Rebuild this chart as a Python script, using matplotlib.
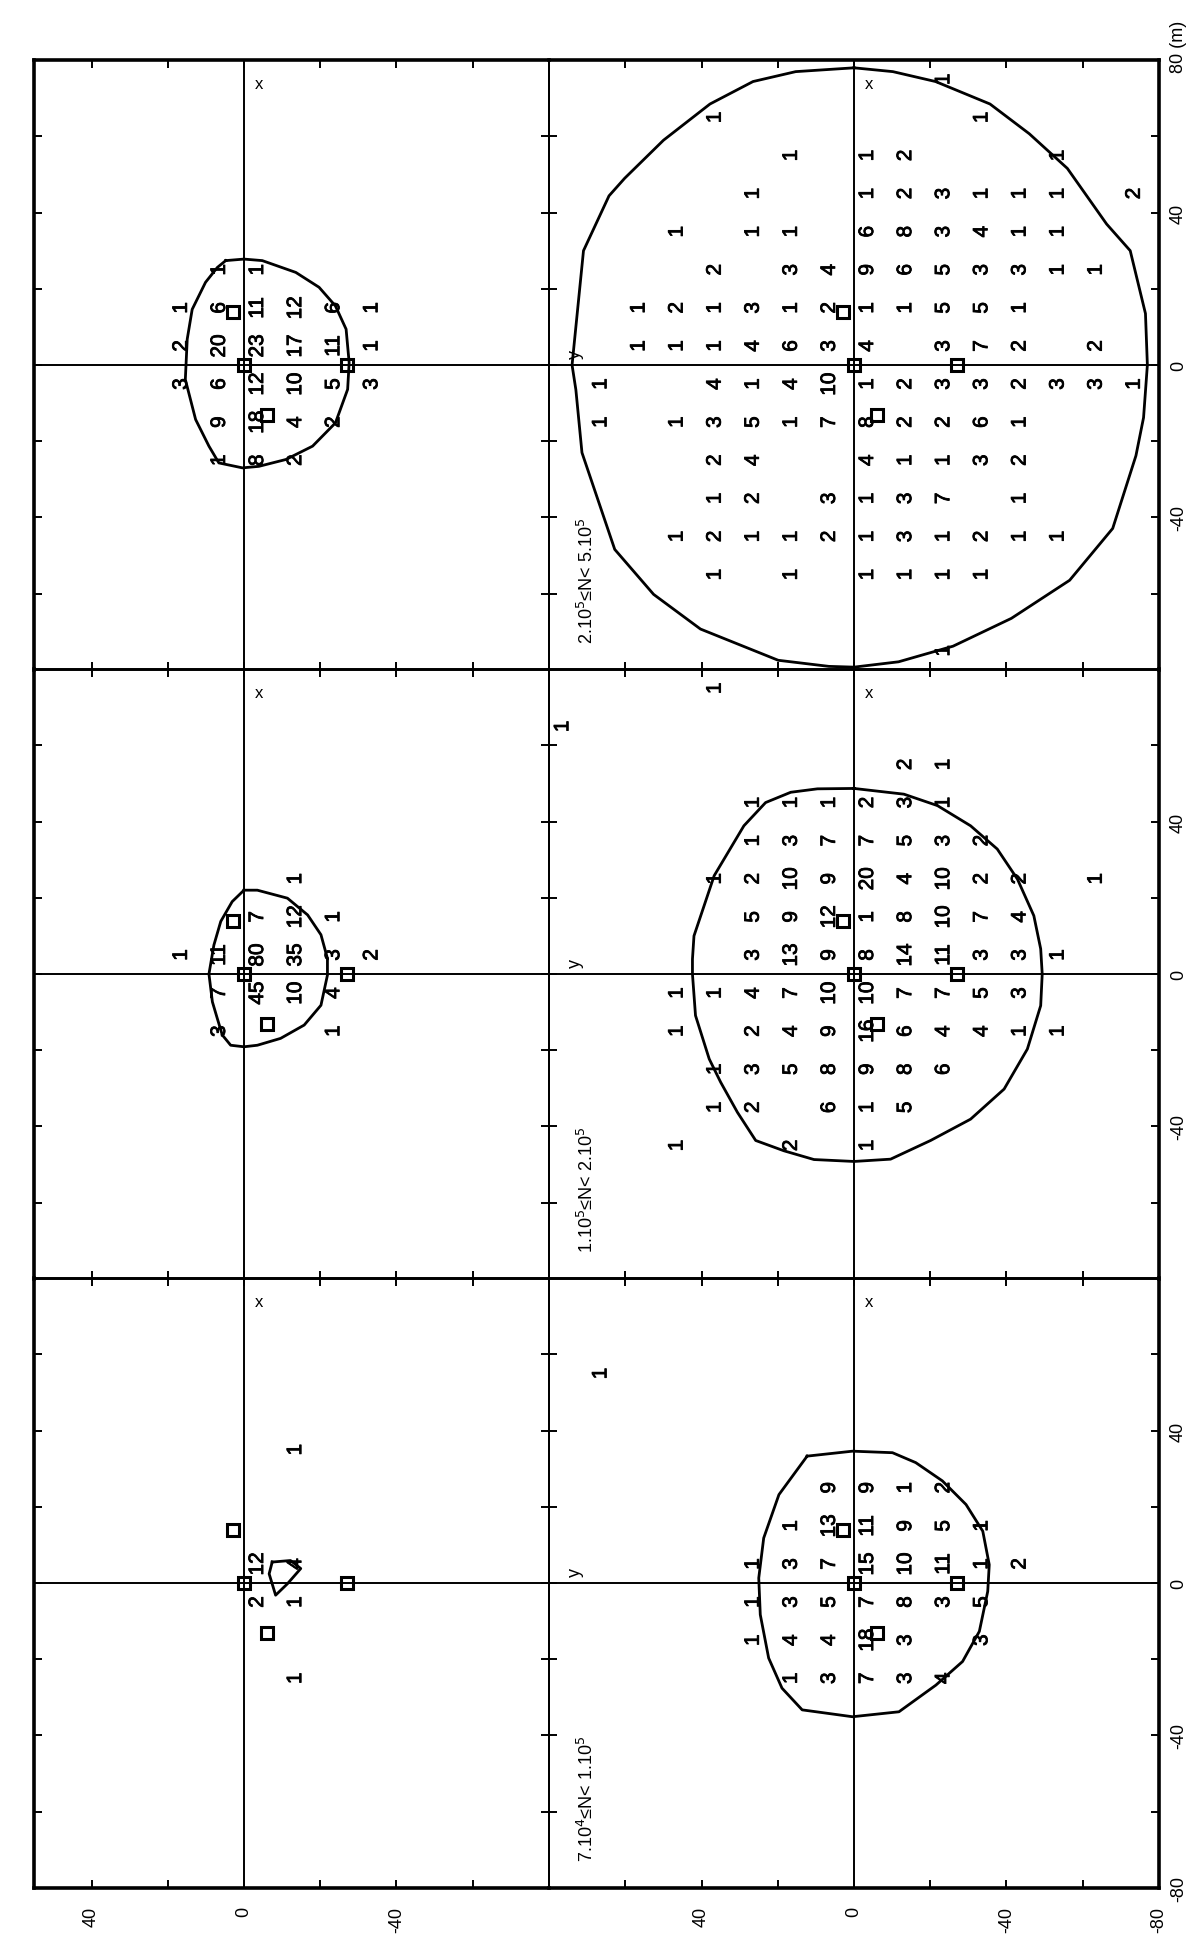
import matplotlib
matplotlib.use("Agg")
import matplotlib.pyplot as plt
import matplotlib.patheffects as pe

plt.rcParams["font.family"] = ["Liberation Sans", "DejaVu Sans"]

# ==========================================
# DATA  (Y, X in metres, count)
# ==========================================

# top-left panel
counts_a1 = [
    (25, [(5, 1), (-5, 1)]),
    (15, [(15, 1), (5, 6), (-5, 11), (-15, 12), (-25, 6), (-35, 1)]),
    (5, [(15, 2), (5, 20), (-5, 23), (-15, 17), (-25, 11), (-35, 1)]),
    (-5, [(15, 3), (5, 6), (-5, 12), (-15, 10), (-25, 5), (-35, 3)]),
    (-15, [(5, 9), (-5, 18), (-15, 4), (-25, 2)]),
    (-25, [(5, 1), (-5, 8), (-15, 2)]),
]

# middle-left panel
counts_a2 = [
    (25, [(-15, 1)]),
    (15, [(-5, 7), (-15, 12), (-25, 1)]),
    (5, [(15, 1), (5, 11), (-5, 80), (-15, 35), (-25, 3), (-35, 2)]),
    (-5, [(5, 7), (-5, 45), (-15, 10), (-25, 4)]),
    (-15, [(5, 3), (-25, 1)]),
]

# bottom-left panel
counts_a3 = [
    (35, [(-15, 1)]),
    (5, [(-5, 12), (-15, 4)]),
    (-5, [(-5, 2), (-15, 1)]),
    (-25, [(-15, 1)]),
]

# top-right panel
counts_b1 = [
    (75, [(-25, 1)]),
    (65, [(35, 1), (-35, 1)]),
    (55, [(15, 1), (-5, 1), (-15, 2), (-55, 1)]),
    (45, [(25, 1), (-5, 1), (-15, 2), (-25, 3), (-35, 1), (-45, 1), (-55, 1), (-75, 2)]),
    (35, [(45, 1), (25, 1), (15, 1), (-5, 6), (-15, 8), (-25, 3), (-35, 4), (-45, 1), (-55, 1)]),
    (25, [(35, 2), (15, 3), (5, 4), (-5, 9), (-15, 6), (-25, 5), (-35, 3), (-45, 3), (-55, 1), (-65, 1)]),
    (15, [(55, 1), (45, 2), (35, 1), (25, 3), (15, 1), (5, 2), (-5, 1), (-15, 1), (-25, 5), (-35, 5), (-45, 1)]),
    (5, [(55, 1), (45, 1), (35, 1), (25, 4), (15, 6), (5, 3), (-5, 4), (-25, 3), (-35, 7), (-45, 2), (-65, 2)]),
    (-5, [(65, 1), (35, 4), (25, 1), (15, 4), (5, 10), (-5, 1), (-15, 2), (-25, 3), (-35, 3), (-45, 2), (-55, 3), (-65, 3), (-75, 1)]),
    (-15, [(65, 1), (45, 1), (35, 3), (25, 5), (15, 1), (5, 7), (-5, 8), (-15, 2), (-25, 2), (-35, 6), (-45, 1)]),
    (-25, [(35, 2), (25, 4), (-5, 4), (-15, 1), (-25, 1), (-35, 3), (-45, 2)]),
    (-35, [(35, 1), (25, 2), (5, 3), (-5, 1), (-15, 3), (-25, 7), (-45, 1)]),
    (-45, [(45, 1), (35, 2), (25, 1), (15, 1), (5, 2), (-5, 1), (-15, 3), (-25, 1), (-35, 2), (-45, 1), (-55, 1)]),
    (-55, [(35, 1), (15, 1), (-5, 1), (-15, 1), (-25, 1), (-35, 1)]),
    (-75, [(-25, 1)]),
]

# middle-right panel
counts_b2 = [
    (75, [(35, 1)]),
    (65, [(75, 1)]),
    (55, [(-15, 2), (-25, 1)]),
    (45, [(25, 1), (15, 1), (5, 1), (-5, 2), (-15, 3), (-25, 1)]),
    (35, [(25, 1), (15, 3), (5, 7), (-5, 7), (-15, 5), (-25, 3), (-35, 2)]),
    (25, [(35, 1), (25, 2), (15, 10), (5, 9), (-5, 20), (-15, 4), (-25, 10), (-35, 2), (-45, 2), (-65, 1)]),
    (15, [(25, 5), (15, 9), (5, 12), (-5, 1), (-15, 8), (-25, 10), (-35, 7), (-45, 4)]),
    (5, [(25, 3), (15, 13), (5, 9), (-5, 8), (-15, 14), (-25, 11), (-35, 3), (-45, 3), (-55, 1)]),
    (-5, [(45, 1), (35, 1), (25, 4), (15, 7), (5, 10), (-5, 10), (-15, 7), (-25, 7), (-35, 5), (-45, 3)]),
    (-15, [(45, 1), (25, 2), (15, 4), (5, 9), (-5, 16), (-15, 6), (-25, 4), (-35, 4), (-45, 1), (-55, 1)]),
    (-25, [(35, 1), (25, 3), (15, 5), (5, 8), (-5, 9), (-15, 8), (-25, 6)]),
    (-35, [(35, 1), (25, 2), (5, 6), (-5, 1), (-15, 5)]),
    (-45, [(45, 1), (15, 2), (-5, 1)]),
]

# bottom-right panel
counts_b3 = [
    (55, [(65, 1)]),
    (25, [(5, 9), (-5, 9), (-15, 1), (-25, 2)]),
    (15, [(15, 1), (5, 13), (-5, 11), (-15, 9), (-25, 5), (-35, 1)]),
    (5, [(25, 1), (15, 3), (5, 7), (-5, 15), (-15, 10), (-25, 11), (-35, 1), (-45, 2)]),
    (-5, [(25, 1), (15, 3), (5, 5), (-5, 7), (-15, 8), (-25, 3), (-35, 5)]),
    (-15, [(25, 1), (15, 4), (5, 4), (-5, 18), (-15, 3), (-35, 3)]),
    (-25, [(15, 1), (5, 3), (-5, 7), (-15, 3), (-25, 4)]),
]

# contours (Y, X)
contour_a1 = [(4.8, 27.4), (0, 27.8), (-4.8, 27.4), (-13.6, 24.3), (-19.7, 20.4),
              (-24, 15.5), (-26.8, 9.4), (-27.6, 0.6), (-27.2, -6.4), (-24, -15.2),
              (-18, -21.3), (-11, -24.8), (-3.9, -26.6), (0.4, -27), (6.6, -25.7),
              (9.2, -21.3), (12.7, -14.3), (15.4, -3.8), (14.9, 6.8), (13.6, 14.6),
              (10.1, 21.7), (7, 25.6)]
contour_a2 = [(0, 22), (-3.5, 22), (-11.4, 19.9), (-16.7, 15.5), (-20.2, 10.3),
              (-21.9, 4.1), (-21.9, -0.3), (-20.2, -8.2), (-15.8, -13.4), (-9.6, -16.9),
              (-3.5, -18.7), (0, -19.1), (3.5, -18.7), (5.7, -16), (7, -11.7),
              (8.3, -7.3), (9.2, 0), (7.9, 7.6), (6.1, 13.8), (3.1, 19)]
contour_a3 = [(-7.4, 5.5), (-12.2, 5.9), (-14.9, 3.8), (-11.4, -0.2), (-8.3, -3.2),
              (-6.6, 2.4)]
contour_b1 = [(0, 78), (15.3, 77), (26.5, 74.4), (37.8, 68.5), (50, 59), (60.2, 49),
              (64.3, 44.4), (71, 30), (74, 0), (73, -6.5), (71.4, -23), (62.8, -48.4),
              (52.6, -60.2), (40.3, -69.3), (19.9, -77.5), (6.6, -79.1), (0, -79.3),
              (-11.7, -77.9), (-26, -73.8), (-41.3, -66.5), (-56.6, -56.5),
              (-67.9, -42.9), (-74, -23.8), (-76, -13.8), (-77, 0), (-76.5, 13.5),
              (-72.5, 30), (-66.3, 37), (-56, 51.6), (-46, 60.7), (-35.7, 68.5),
              (-21.4, 74.4), (-10.2, 77)]
contour_b2 = [(0, 48.7), (9.6, 48.6), (16.6, 47.7), (23.2, 45), (28.9, 38.9),
              (36.7, 25.8), (42, 10), (42.4, 3.9), (42.4, 0), (41.6, -10.9),
              (38, -22.3), (35, -28.4), (30.6, -36.3), (25.8, -43.7), (18.4, -46.4),
              (10.5, -48.7), (0, -49.2), (-9.6, -48.6), (-20.1, -43.7), (-30.6, -38.1),
              (-39.4, -30.2), (-45.5, -19.7), (-49, -8.3), (-49.4, 0), (-49, 6.6),
              (-47.2, 15.3), (-42.9, 24.9), (-37.6, 32.8), (-30.6, 38.9),
              (-21.9, 44.2), (-13.1, 47.2)]
contour_b3 = [(12.3, 33.3), (0.4, 34.6), (-10.1, 34.2), (-16.2, 31.6), (-23.2, 26.8),
              (-29.4, 20.6), (-33.8, 13.6), (-35.5, 4.8), (-35.1, -2.2), (-32.9, -12.7),
              (-28.5, -20.6), (-21.5, -26.8), (-11.8, -33.8), (0.4, -35.1),
              (13.6, -33.3), (18.9, -27.6), (22.4, -19.7), (24.6, -8.3), (25, 1.3),
              (23.7, 11.8), (19.7, 23.2)]

# reference points (squares), same in every panel
square_y = [3, 0, -6, -27]
square_x = [14, 0, -13, 0]

band_labels = {
    "b1": "2.10$^5$\u2264N< 5.10$^5$",
    "b2": "1.10$^5$\u2264N< 2.10$^5$",
    "b3": "7.10$^4$\u2264N< 1.10$^5$",
}

bottom_ticks_left = [40, 0, -40]
bottom_ticks_right = [40, 0, -40, -80]
side_ticks = [40, 0, -40]

# ==========================================
# LAYOUT (pixels of the 1199x1940 page)
# ==========================================

W, H = 1199, 1940
S = 3.81
ROW_ZERO = [366, 975, 1584]
COL_ZERO = [244, 854]
LEFT_EDGE = 55

FS = 15
INK = [pe.withStroke(linewidth=0.6, foreground="k")]

fig = plt.figure(figsize=(W / 100, H / 100), dpi=100)
fig.patch.set_facecolor("white")

panels = {
    ("a", 0): (counts_a1, contour_a1),
    ("a", 1): (counts_a2, contour_a2),
    ("a", 2): (counts_a3, contour_a3),
    ("b", 0): (counts_b1, contour_b1),
    ("b", 1): (counts_b2, contour_b2),
    ("b", 2): (counts_b3, contour_b3),
}

for (col, row), (counts, contour) in panels.items():

    cz = COL_ZERO[0] if col == "a" else COL_ZERO[1]
    ymax = LEFT_EDGE if col == "a" else 80

    left = cz - ymax * S
    right = cz + 80 * S
    top = ROW_ZERO[row] - 80 * S
    bottom = ROW_ZERO[row] + 80 * S

    ax = fig.add_axes([
        left / W,
        1 - bottom / H,
        (right - left) / W,
        (bottom - top) / H
    ])

    ax.set_xlim(ymax, -80)
    ax.set_ylim(-80, 80)
    ax.set_facecolor("none")

    # frame
    for side in ["top", "bottom", "left", "right"]:
        outer = (
            (side == "top" and row == 0)
            or (side == "bottom" and row == 2)
            or (side == "left" and col == "a")
            or (side == "right" and col == "b")
        )
        ax.spines[side].set_linewidth(2.6 if outer else 1.4)

    ax.set_xticks([t for t in range(-60, 61, 20) if t < ymax])
    ax.set_yticks(range(-60, 61, 20))
    ax.tick_params(
        axis="both", direction="in", length=6, width=1.4,
        top=True, bottom=True, left=True, right=True,
        labelbottom=False, labelleft=False
    )

    # axes through origin
    ax.axvline(0, color="k", lw=1.4)
    ax.axhline(0, color="k", lw=1.4)

    # contour
    cy = [p[0] for p in contour] + [contour[0][0]]
    cx = [p[1] for p in contour] + [contour[0][1]]
    ax.plot(cy, cx, color="k", lw=2.0)

    # counts
    for x, items in counts:
        for y, n in items:
            ax.text(
                y, x, str(n),
                rotation=90, rotation_mode="anchor",
                ha="center", va="baseline",
                fontsize=FS, path_effects=INK
            )

    # reference squares
    ax.plot(
        square_y, square_x, "s",
        mfc="none", mec="k", ms=8, mew=2.2
    )

    ax.text(-4, 74, "x", fontsize=12, ha="center", va="center")

    if col == "b":

        ax.text(
            73, 3, "y", rotation=90, rotation_mode="anchor",
            ha="center", va="center", fontsize=13
        )

        ax.text(
            70, -73, band_labels["b%d" % (row + 1)],
            rotation=90, rotation_mode="anchor",
            ha="left", va="center", fontsize=13
        )

        # right-hand scale
        for t in side_ticks:
            ax.text(
                -85.2, t, str(t), rotation=90, rotation_mode="anchor",
                ha="center", va="center", fontsize=13, clip_on=False
            )
        if row == 0:
            ax.text(
                -85.2, 77, "80 (m)", rotation=90, rotation_mode="anchor",
                ha="left", va="center", fontsize=13, clip_on=False
            )
        if row == 2:
            ax.text(
                -85.2, -80, "-80", rotation=90, rotation_mode="anchor",
                ha="center", va="center", fontsize=13, clip_on=False
            )

    if row == 2:

        ticks = bottom_ticks_left if col == "a" else bottom_ticks_right
        for t in ticks:
            ax.text(
                t, -84.7, str(t), rotation=90, rotation_mode="anchor",
                ha="right", va="center", fontsize=13, clip_on=False
            )

fig.savefig("out.png", dpi=100, facecolor="white")
